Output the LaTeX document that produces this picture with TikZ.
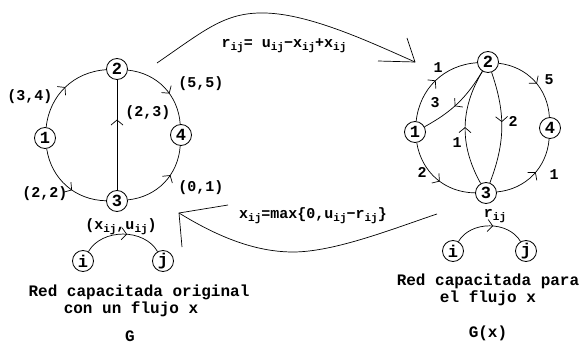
\documentclass[tikz,border=0pt]{standalone}
\usepackage{fontspec}
\setmainfont{Liberation Mono}
\usetikzlibrary{arrows.meta,decorations.markings}
\newcommand{\sbij}{\raisebox{-0.4ex}{\fontsize{11}{11}\selectfont ij}}
\tikzset{
 vtx/.style={circle,draw,line width=0.8pt,minimum size=21pt,inner sep=0pt,font=\bfseries\fontsize{17}{17}\selectfont},
 lbl/.style={font=\bfseries\fontsize{15}{15}\selectfont,inner sep=1pt},
 ttl/.style={font=\bfseries\fontsize{16}{17}\selectfont,inner sep=0pt,align=center},
 edge/.style={line width=0.7pt},
 midarrow/.style={postaction={decorate},decoration={markings,mark=at position #1 with {\arrow{Straight Barb[length=5pt,width=12pt,line width=0.7pt]}}}},
 midarrow/.default=0.5,
}
\begin{document}
\begin{tikzpicture}[x=1pt,y=-1pt]
\useasboundingbox (0,0) rectangle (582,345);
% ---------- left graph G
\node[vtx] (L2) at (117,69) {2};
\node[vtx] (L1) at (45,138) {1};
\node[vtx] (L4) at (181,135) {4};
\node[vtx] (L3) at (117,201) {3};
\draw[edge,midarrow=0.5] (L1) to[bend left=40] (L2);
\draw[edge,midarrow=0.6] (L2) to[bend left=40] (L4);
\draw[edge,midarrow=0.58] (L1) to[bend right=40] (L3);
\draw[edge,midarrow=0.62] (L3) to[bend right=40] (L4);
\draw[edge,midarrow=0.64] (L3) -- (L2);
\node[lbl] (l34) at (30,97) {(3,4)};
\node[lbl] (l55) at (201,84) {(5,5)};
\node[lbl] (l23) at (148,113) {(2,3)};
\node[lbl] (l22) at (45,194) {(2,2)};
\node[lbl] (l01) at (201,188) {(0,1)};
% legend left
\node[lbl] (lxu) at (121,227) {(x\sbij,u\sbij)};
\node[vtx] (Li) at (83,261) {i};
\node[vtx] (Lj) at (163,261) {j};
\draw[edge,midarrow=0.55] (Li) to[out=60,in=120] (Lj);
\node[ttl] (tG1) at (139,292) {Red capacitada original};
\node[ttl] (tG2) at (131,309) {con un flujo x};
\node[ttl] (tG) at (130,336) {G};
% ---------- right graph G(x)
\node[vtx] (R2) at (488,62) {2};
\node[vtx] (R1) at (415,132) {1};
\node[vtx] (R4) at (550,128) {4};
\node[vtx] (R3) at (486,193) {3};
\draw[edge,midarrow=0.5] (R1) to[bend left=40] (R2);
\draw[edge,midarrow=0.55] (R2) to[bend left=40] (R4);
\draw[edge,midarrow=0.55] (R1) to[bend right=40] (R3);
\draw[edge,midarrow=0.55] (R3) to[bend right=40] (R4);
\draw[edge,midarrow=0.55] (R2) to[bend left=15] (R1);
\draw[edge,midarrow=0.45] (R2) to[bend left=20] (R3);
\draw[edge,midarrow=0.5] (R3) to[bend left=30] (R2);
\node[lbl] (r1a) at (438,68) {1};
\node[lbl] (r5) at (549,80) {5};
\node[lbl] (r3) at (435,103) {3};
\node[lbl] (r2a) at (513,121) {2};
\node[lbl] (r1b) at (457,143) {1};
\node[lbl] (r2b) at (422,172) {2};
\node[lbl] (r1c) at (554,175) {1};
% legend right
\node[lbl] (rr) at (495,216) {r\sbij};
\node[vtx] (Ri) at (453,251) {i};
\node[vtx] (Rj) at (526,251) {j};
\draw[edge,midarrow=0.55] (Ri) to[out=60,in=120] (Rj);
\node[ttl] (tR1) at (488,281) {Red capacitada para};
\node[ttl] (tR2) at (488,298) {el flujo x};
\node[ttl] (tR) at (488,333) {G(x)};
% ---------- top arrow
\coordinate (ts) at (157,63);
\coordinate (tt) at (415,62);
\coordinate (th1) at (407,38);
\coordinate (th2) at (378,61);
\draw[edge] (ts) .. controls (205,30) and (225,12) .. (265,13) .. controls (310,14) and (370,42) .. (tt);
\draw[edge] (th1) -- (tt) -- (th2);
\node[lbl] (tf) at (284,46) {r\sbij= u\sbij−x\sbij+x\sbij};
% ---------- bottom arrow
\coordinate (bs) at (437,214);
\coordinate (bt) at (179,213);
\coordinate (bh1) at (228,205);
\coordinate (bh2) at (182,247);
\draw[edge] (bs) .. controls (395,228) and (335,252) .. (293,252) .. controls (250,252) and (210,232) .. (bt);
\draw[edge] (bh1) -- (bt) -- (bh2);
\node[lbl] (bf) at (313,216) {x\sbij=max\{0,u\sbij−r\sbij\}};
\end{tikzpicture}
\end{document}
